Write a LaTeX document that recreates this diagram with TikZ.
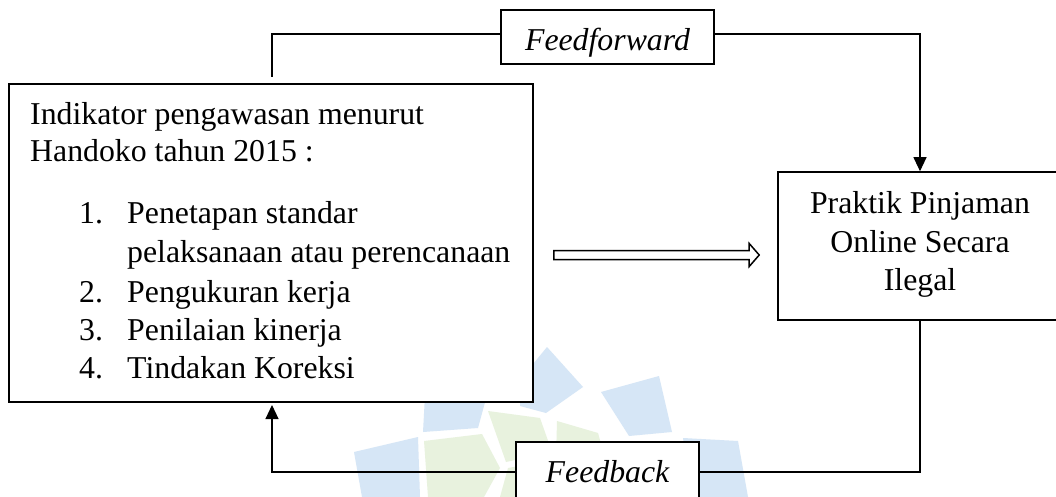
\documentclass[tikz,border=0pt]{standalone}
\usepackage{fontspec}
\setmainfont{Liberation Serif}
\usetikzlibrary{arrows.meta,calc}
\definecolor{wmblue}{RGB}{214,230,246}
\definecolor{wmgreen}{RGB}{232,242,222}
\tikzset{
  box/.style={draw=black, line width=1.6pt, fill=white, inner sep=0pt},
  txt/.style={inner sep=0pt, font=\fontsize{31.8}{38}\selectfont},
  conn/.style={draw=black, line width=1.1pt},
  connarrow/.style={conn, -{Triangle[width=13pt,length=14pt]}},
  blockarrow/.style={draw=black, line width=1.5pt, fill=white, line join=miter},
}
\begin{document}
\begin{tikzpicture}[x=1pt,y=-1pt]
\clip (0,0) rectangle (1056,497);
\fill[white] (0,0) rectangle (1056,497);

% faint logo in the background
\fill[wmblue] (425,395) -- (487,395) -- (478,428) -- (423,432) -- cycle;
\fill[wmblue] (547,347) -- (583,387) -- (546,413) -- (520,406) -- (520,380) -- cycle;
\fill[wmblue] (601,392) -- (659,376) -- (672,432) -- (629,436) -- cycle;
\fill[wmblue] (683,438) -- (738,441) -- (748,497) -- (692,497) -- cycle;
\fill[wmblue] (354,452) -- (418,437) -- (420,497) -- (362,497) -- cycle;
\fill[wmgreen] (424,441) -- (482,434) -- (500,468) -- (484,497) -- (428,497) -- cycle;
\fill[wmgreen] (488,411) -- (540,418) -- (552,452) -- (506,462) -- cycle;
\fill[wmgreen] (557,421) -- (598,433) -- (616,497) -- (568,497) -- (556,458) -- cycle;
\fill[wmgreen] (508,468) -- (552,460) -- (560,497) -- (500,497) -- cycle;

% main boxes
\node[box, minimum width=524pt, minimum height=318pt] (L) at (271,243) {};
\node[box, minimum width=284pt, minimum height=148pt] (R) at (920,246) {};
\node[box, minimum width=213pt, minimum height=54pt] (FF) at (607.5,37) {};
\node[box, minimum width=183pt, minimum height=60pt] (FB) at (607.5,472) {};

% text of the indicator box
\node[txt, anchor=base west] (t1) at (30,125) {Indikator pengawasan menurut};
\node[txt, anchor=base west] (t2) at (30,162) {Handoko tahun 2015 :};
\node[txt, anchor=base west] (n1) at (79,223) {1.};
\node[txt, anchor=base west] (i1) at (127,223) {Penetapan standar};
\node[txt, anchor=base west] (i1b) at (127,262) {pelaksanaan atau perencanaan};
\node[txt, anchor=base west] (n2) at (79,302) {2.};
\node[txt, anchor=base west] (i2) at (127,302) {Pengukuran kerja};
\node[txt, anchor=base west] (n3) at (79,340) {3.};
\node[txt, anchor=base west] (i3) at (127,340) {Penilaian kinerja};
\node[txt, anchor=base west] (n4) at (79,378) {4.};
\node[txt, anchor=base west] (i4) at (127,378) {Tindakan Koreksi};

% text of the practice box
\node[txt, anchor=base] (r1) at (920,213) {Praktik Pinjaman};
\node[txt, anchor=base] (r2) at (920,252) {Online Secara};
\node[txt, anchor=base] (r3) at (920,290) {Ilegal};

% labels of the loop boxes
\node[txt, anchor=base] (fft) at (607.5,51) {\itshape Feedforward};
\node[txt, anchor=base] (fbt) at (607.5,482) {\itshape Feedback};

% connectors
\coordinate (ffstart) at (272,77);
\coordinate (fbend) at (272,405);
\draw[conn] (ffstart) |- ([yshift=3pt]FF.west);
\draw[connarrow] ([yshift=3pt]FF.east) -| (R.north);
\draw[conn] (R.south) |- (FB.east);
\draw[connarrow] (FB.west) -| (fbend);

% hollow block arrow between the two main boxes
\coordinate (datail) at ($(L.east)+(20,12)$);
\coordinate (datip) at ($(R.west)+(-18,9)$);
\draw[blockarrow]
  ($(datail)+(0,-4.5)$) -- ($(datip)+(-10,-4.5)$) -- ($(datip)+(-10,-11.5)$)
  -- (datip) -- ($(datip)+(-10,11.5)$) -- ($(datip)+(-10,4.5)$)
  -- ($(datail)+(0,4.5)$) -- cycle;
\end{tikzpicture}
\end{document}
